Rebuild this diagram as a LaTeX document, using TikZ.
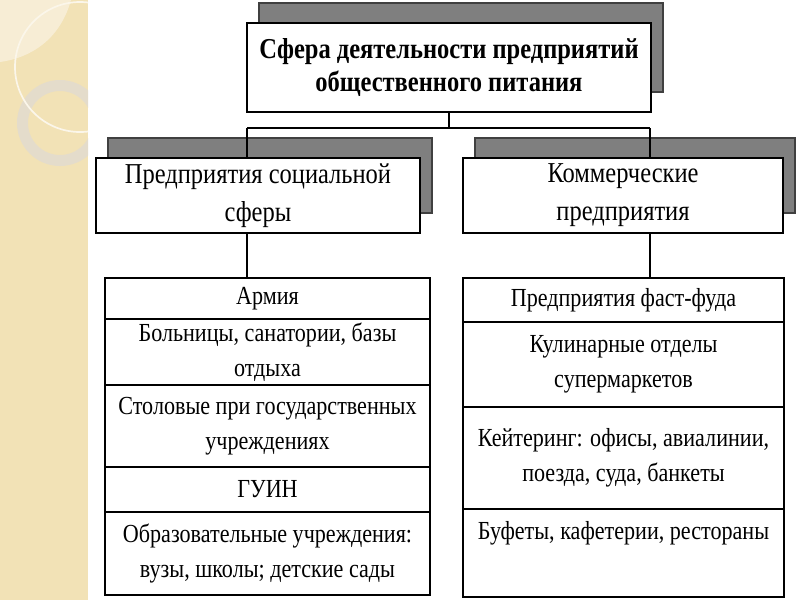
\documentclass[tikz,border=0pt]{standalone}
\usepackage{fontspec}
\setmainfont{Liberation Serif}[FakeStretch=0.85]
\usepackage{tikz}
\usetikzlibrary{positioning,shadows}

\newcommand{\pxu}{0.025cm}
\definecolor{stripbeige}{HTML}{F2E2B6}
\definecolor{leafcream}{HTML}{F7EDD5}
\definecolor{ringgray}{HTML}{E4DCCB}
\definecolor{shadowgray}{HTML}{7F7F7F}

\begin{document}
\begin{tikzpicture}[x=\pxu, y=-\pxu,
            font=\fontsize{18.5}{25}\selectfont,
            headbox/.style={rectangle, draw, fill=white, line width=1pt, align=center, inner sep=0pt,
                drop shadow={shadow xshift=0.3cm, shadow yshift=0.5cm, fill=shadowgray, draw=black!75, opacity=1}},
            rowbox/.style={rectangle, draw, fill=white, line width=1pt, align=center, inner sep=0pt, outer sep=0pt},
            link/.style={line width=1pt}
        ]
            \useasboundingbox (0,0) rectangle (800,600);
            \fill[white] (0,0) rectangle (800,600);

            % Decorative strip on the left
            \begin{scope}
                \clip (0,0) rectangle (88,600);
                \fill[stripbeige] (0,0) rectangle (88,600);
                \fill[leafcream] (0,0) -- (71,0) .. controls (60,40) and (30,58) .. (0,62) -- cycle;
                \fill[ringgray, even odd rule] (60,123) circle[radius=43] (60,123) circle[radius=32];
                \draw[leafcream!50!white, line width=1.2pt] (80,67) circle[radius=65];
            \end{scope}

            % Top block
            \node[headbox, minimum width=404*\pxu, minimum height=89*\pxu,
                font=\bfseries\fontsize{20.5}{24}\selectfont] (sphere) at (449,67.5)
                {Сфера деятельности предприятий\\общественного питания};

            % Second level
            \node[headbox, minimum width=324*\pxu, minimum height=75*\pxu,
                font=\fontsize{20.5}{27}\selectfont] (social) at (258,195.5)
                {Предприятия социальной\\сферы};
            \node[headbox, minimum width=320*\pxu, minimum height=75*\pxu,
                font=\fontsize{20.5}{27}\selectfont] (commercial) at (623,195.5)
                {Коммерческие\\предприятия};

            % Left column
            \node[rowbox, anchor=north, minimum width=325*\pxu, minimum height=41*\pxu] (army) at (267.5,278) {Армия};
            \node[rowbox, minimum width=325*\pxu, minimum height=66*\pxu, below=0pt of army] (hospital)
                {Больницы, санатории, базы\\отдыха};
            \node[rowbox, minimum width=325*\pxu, minimum height=82*\pxu, below=0pt of hospital] (canteen)
                {Столовые при государственных\\учреждениях};
            \node[rowbox, minimum width=325*\pxu, minimum height=45*\pxu, below=0pt of canteen] (guin) {ГУИН};
            \node[rowbox, minimum width=325*\pxu, minimum height=83*\pxu, below=0pt of guin] (school)
                {Образовательные учреждения:\\вузы, школы; детские сады};

            % Right column
            \node[rowbox, anchor=north, minimum width=321*\pxu, minimum height=44*\pxu] (fastfood) at (623.5,278)
                {Предприятия фаст-фуда};
            \node[rowbox, minimum width=321*\pxu, minimum height=85*\pxu, below=0pt of fastfood] (culinary)
                {Кулинарные отделы\\супермаркетов};
            \node[rowbox, minimum width=321*\pxu, minimum height=102*\pxu, below=0pt of culinary] (catering)
                {Кейтеринг: офисы, авиалинии,\\поезда, суда, банкеты};
            \node[rowbox, minimum width=321*\pxu, minimum height=88*\pxu, below=0pt of catering] (buffet)
                {Буфеты, кафетерии, рестораны\\ \strut};

            % Connectors
            \coordinate (jl) at (247,128);
            \coordinate (jr) at (650,128);
            \draw[link] (sphere.south) -- (sphere.south |- jl);
            \draw[link] (jl) -- (jr);
            \draw[link] (jl) -- (jl |- social.north);
            \draw[link] (jr) -- (jr |- commercial.north);
            \draw[link] (jl |- social.south) -- (jl |- army.north);
            \draw[link] (jr |- commercial.south) -- (jr |- fastfood.north);

        \end{tikzpicture}
\end{document}
